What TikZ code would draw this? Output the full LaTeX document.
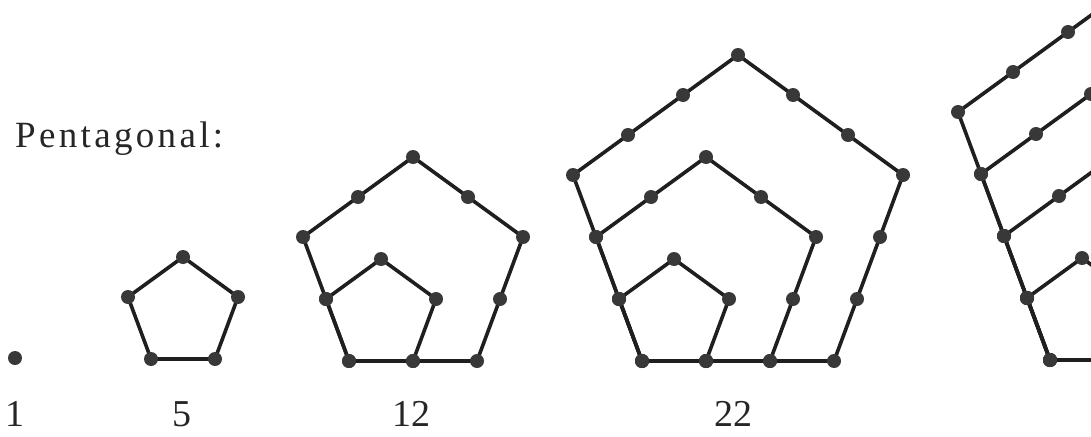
\documentclass[tikz,border=0pt]{standalone}
\usepackage{fontspec}
\setmainfont{Liberation Serif}
\newfontfamily\titlefont[LetterSpace=9]{Liberation Serif}
\usetikzlibrary{calc}
\tikzset{
  edge/.style={line width=3.6pt, line join=round, draw=black!88},
  dot/.style={circle, fill=black!78, inner sep=0pt, minimum size=14pt},
  numlabel/.style={anchor=base, inner sep=0pt, font=\fontsize{38}{44}\selectfont, text=black!85},
  titlelabel/.style={anchor=base west, inner sep=0pt, font=\titlefont\fontsize{37}{44}\selectfont, text=black!85},
}
\begin{document}
\begin{tikzpicture}[x=1pt,y=-1pt]
\useasboundingbox (0,0) rectangle (1091,436);
\clip (0,0) rectangle (1091,436);
\fill[white] (0,0) rectangle (1091,436);

\node[titlelabel] (title) at (15,147) {Pentagonal:};

% figure 1: single dot
\node[dot] (d-1) at (15,358) {};

% figures 2..5: nested pentagons sharing the bottom-left vertex
\foreach \f/\bx/\by in {2/151/359, 3/349/361, 4/642/361, 5/1050/360} {
  \foreach \k in {2,...,\f} {
    \pgfmathtruncatemacro\m{\k-1}
    \coordinate (c-\f-\k-0) at (\bx,\by);
    \coordinate (c-\f-\k-1) at (\bx+64*\m,\by);
    \coordinate (c-\f-\k-2) at (\bx+87*\m,\by-62*\m);
    \coordinate (c-\f-\k-3) at (\bx+32*\m,\by-102*\m);
    \coordinate (c-\f-\k-4) at (\bx-23*\m,\by-62*\m);
    \draw[edge] (c-\f-\k-0) -- (c-\f-\k-1) -- (c-\f-\k-2) -- (c-\f-\k-3) -- (c-\f-\k-4) -- cycle;
  }
}
\foreach \f in {2,3,4,5} {
  \foreach \k in {2,...,\f} {
    \pgfmathtruncatemacro\m{\k-1}
    \pgfmathtruncatemacro\mm{\k-2}
    \foreach \i in {0,...,4} {
      \pgfmathtruncatemacro\ii{mod(\i+1,5)}
      \foreach \j in {0,...,\mm} {
        \node[dot] (d-\f-\k-\i-\j) at ($(c-\f-\k-\i)!{\j/\m}!(c-\f-\k-\ii)$) {};
      }
    }
  }
}

\node[numlabel] (l1) at (15,426) {1};
\node[numlabel] (l2) at (182,426) {5};
\node[numlabel] (l3) at (411,426) {12};
\node[numlabel] (l4) at (733,426) {22};
\end{tikzpicture}
\end{document}
